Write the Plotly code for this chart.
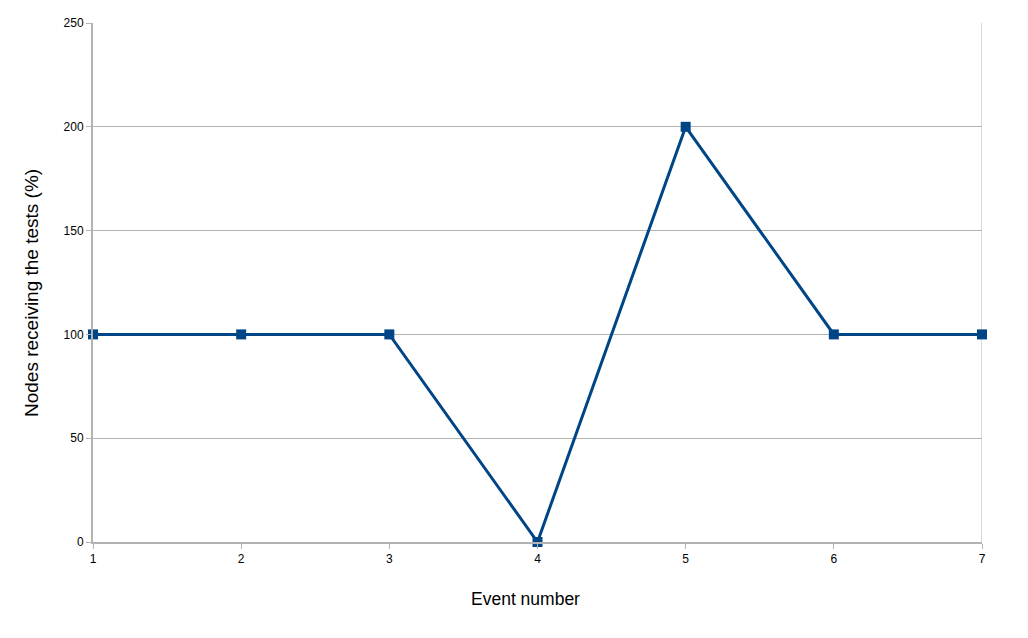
import plotly.graph_objects as go

events = [1, 2, 3, 4, 5, 6, 7]
nodes_pct = [100, 100, 100, 0, 200, 100, 100]
y_ticks = [0, 50, 100, 150, 200, 250]
x_title = "Event number"
y_title = "Nodes receiving the tests (%)"

fig = go.Figure()
fig.add_trace(go.Scatter(
    x=events, y=nodes_pct, mode="lines+markers",
    line=dict(color="#004586", width=3),
    marker=dict(symbol="square", size=10, color="#004586"),
    cliponaxis=False, showlegend=False,
))

fig.update_layout(
    width=1012, height=622,
    margin=dict(l=85, r=38, t=15, b=88, autoexpand=False),
    paper_bgcolor="white", plot_bgcolor="white",
    font=dict(family="Liberation Sans, Arial, sans-serif", color="black"),
    xaxis=dict(
        range=[1, 7], tickvals=events, ticks="outside", ticklen=5,
        tickcolor="#b3b3b3", showgrid=False, showline=True,
        linecolor="#b3b3b3", linewidth=2, mirror=False, zeroline=False,
        tickfont=dict(size=12), automargin=False,
    ),
    yaxis=dict(
        range=[0, 250], tickvals=y_ticks, ticks="outside", ticklen=5,
        tickcolor="#b3b3b3", showgrid=True, gridcolor="#b3b3b3", gridwidth=1,
        showline=True, linecolor="#b3b3b3", linewidth=2, zeroline=False,
        tickfont=dict(size=12), automargin=False,
    ),
)
fig.add_annotation(text=x_title, xref="paper", yref="paper", x=0.486, y=-0.1098,
                   xanchor="center", yanchor="middle", showarrow=False,
                   font=dict(size=17.5))
fig.add_annotation(text=y_title, xref="paper", yref="paper", x=-0.0686, y=0.4798,
                   xanchor="center", yanchor="middle", showarrow=False,
                   textangle=-90, font=dict(size=19))
fig.add_shape(type="line", xref="x", yref="paper", x0=7, x1=7, y0=0, y1=1,
              line=dict(color="#d9d9d9", width=2), layer="below")

fig.write_html("out.html")
